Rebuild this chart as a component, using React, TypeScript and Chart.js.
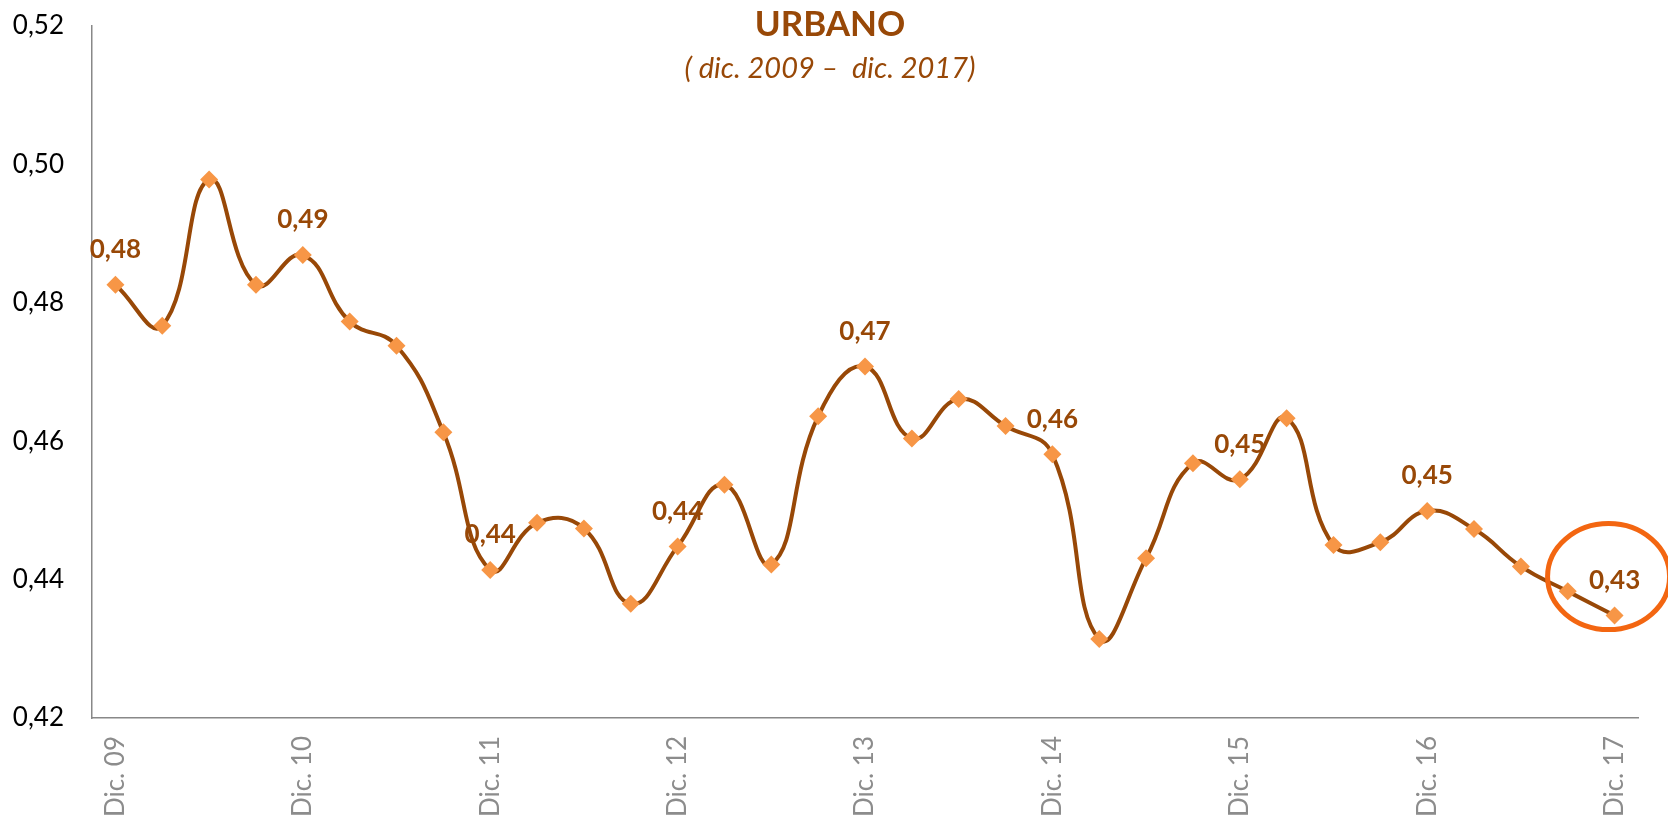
import React, { useEffect, useRef } from "react";
import { Chart, registerables } from "chart.js";

Chart.register(...registerables);

const categories: string[] = [
  "Dic. 09", "Mar. 10", "Jun. 10", "Sep. 10",
  "Dic. 10", "Mar. 11", "Jun. 11", "Sep. 11",
  "Dic. 11", "Mar. 12", "Jun. 12", "Sep. 12",
  "Dic. 12", "Mar. 13", "Jun. 13", "Sep. 13",
  "Dic. 13", "Mar. 14", "Jun. 14", "Sep. 14",
  "Dic. 14", "Mar. 15", "Jun. 15", "Sep. 15",
  "Dic. 15", "Mar. 16", "Jun. 16", "Sep. 16",
  "Dic. 16", "Mar. 17", "Jun. 17", "Sep. 17",
  "Dic. 17",
];

const urbano: number[] = [
  0.4826, 0.4767, 0.4978, 0.4826,
  0.4869, 0.4773, 0.4738, 0.4613,
  0.4414, 0.4482, 0.4474, 0.4365,
  0.4448, 0.4537, 0.4422, 0.4636,
  0.4708, 0.4604, 0.4661, 0.4622,
  0.4581, 0.4314, 0.4431, 0.4568,
  0.4545, 0.4633, 0.4450, 0.4454,
  0.4499, 0.4473, 0.4419, 0.4383,
  0.4348,
];

const labeledIndices: number[] = [0, 4, 8, 12, 16, 20, 24, 28, 32];

const yTicks: number[] = [0.42, 0.44, 0.46, 0.48, 0.5, 0.52];

const titleText = "URBANO";
const subtitleText = "( dic. 2009 \u2013  dic. 2017)";

const BROWN = "#984807";
const MARKER = "#F79646";
const HIGHLIGHT = "#F36611";
const FONT = "Lato, 'Open Sans', sans-serif";

const fmt = (v: number) => v.toFixed(2).replace(".", ",");

const overlayPlugin = {
  id: "overlay",
  afterDatasetsDraw(chart: any) {
    const ctx = chart.ctx as CanvasRenderingContext2D;
    const meta = chart.getDatasetMeta(0);
    ctx.save();
    ctx.fillStyle = BROWN;
    ctx.font = `bold 26px ${FONT}`;
    ctx.textAlign = "center";
    ctx.textBaseline = "middle";
    labeledIndices.forEach((i) => {
      const el = meta.data[i];
      if (!el) return;
      ctx.fillText(fmt(urbano[i]), el.x, el.y - 35);
    });
    const last = meta.data[meta.data.length - 1];
    if (last) {
      ctx.beginPath();
      ctx.strokeStyle = HIGHLIGHT;
      ctx.lineWidth = 5;
      ctx.ellipse(last.x - 6, last.y - 39, 61, 53, 0, 0, Math.PI * 2);
      ctx.stroke();
    }
    const cx = chart.width / 2 - 4;
    ctx.fillStyle = BROWN;
    ctx.font = `bold 35px ${FONT}`;
    ctx.fillText(titleText, cx, 25);
    ctx.font = `italic 29px ${FONT}`;
    ctx.fillText(subtitleText, cx, 69);
    ctx.restore();
  },
};

export default function App() {
  const ref = useRef<HTMLCanvasElement | null>(null);

  useEffect(() => {
    if (!ref.current) return;
    const chart = new Chart(ref.current, {
      type: "line",
      data: {
        labels: categories,
        datasets: [
          {
            data: urbano,
            borderColor: BROWN,
            borderWidth: 4,
            tension: 0.45,
            pointStyle: "rectRot",
            pointRadius: 9,
            pointBackgroundColor: MARKER,
            pointBorderColor: MARKER,
            pointBorderWidth: 0,
            fill: false,
          },
        ],
      },
      options: {
        responsive: false,
        animation: false,
        layout: { padding: { top: 26, right: 30, left: 0, bottom: 0 } },
        plugins: {
          legend: { display: false },
          title: { display: false },
          tooltip: { enabled: false },
        },
        scales: {
          x: {
            type: "category",
            offset: true,
            grid: { display: false, drawTicks: false },
            border: { display: true, color: "#888888", width: 1.5 },
            ticks: {
              autoSkip: false,
              maxRotation: 90,
              minRotation: 90,
              padding: 18,
              color: "#8C8C8C",
              font: { family: FONT, size: 26 },
              callback: (_v: any, i: number) =>
                categories[i].startsWith("Dic.") ? categories[i] : "",
            },
            afterFit: (scale: any) => {
              scale.height = 100;
              scale.paddingLeft = 0;
              scale.paddingRight = 0;
            },
          },
          y: {
            min: 0.42,
            max: 0.52,
            afterBuildTicks: (scale: any) => {
              scale.ticks = yTicks.map((v) => ({ value: v }));
            },
            grid: { display: false, drawTicks: false },
            border: { display: true, color: "#888888", width: 1.5 },
            ticks: {
              padding: 28,
              color: "#000000",
              font: { family: FONT, size: 26 },
              callback: (v: any) => fmt(Number(v)),
            },
            afterFit: (scale: any) => {
              scale.width = 92;
              scale.paddingTop = 0;
              scale.paddingBottom = 0;
            },
          },
        },
      },
      plugins: [overlayPlugin],
    });
    return () => chart.destroy();
  }, []);

  return (
    <div style={{ position: "fixed", left: 0, top: 0, width: 1668, height: 818, background: "#ffffff" }}>
      <canvas ref={ref} width={1668} height={818} />
    </div>
  );
}
